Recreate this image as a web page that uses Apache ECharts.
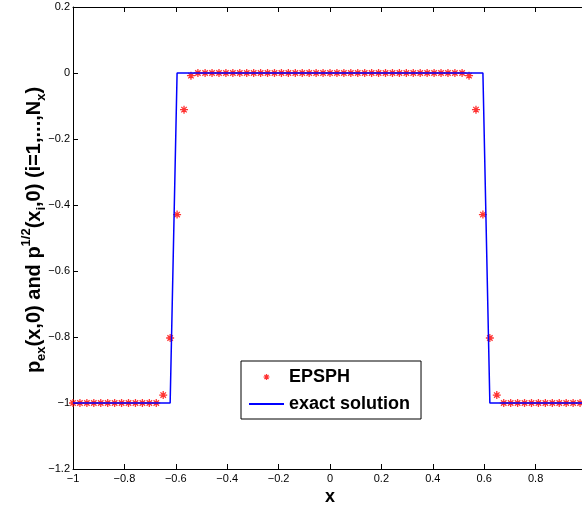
<!DOCTYPE html>
<html>
<head>
<meta charset="utf-8">
<script src="https://cdn.jsdelivr.net/npm/echarts@6/dist/echarts.min.js"></script>
<style>
  html, body { margin: 0; padding: 0; background: #ffffff; }
  #chart { width: 582px; height: 511px; }
</style>
</head>
<body>
<div id="chart"></div>
<script>
// Axis ticks
const xTicks = [-1, -0.8, -0.6, -0.4, -0.2, 0, 0.2, 0.4, 0.6, 0.8, 1];
const yTicks = [-1.2, -1, -0.8, -0.6, -0.4, -0.2, 0, 0.2];

// Particle positions x_i (i = 1, ..., Nx)
const epsphX = [
  -1, -0.973, -0.946, -0.919, -0.892, -0.865, -0.838, -0.811, -0.784, -0.757,
  -0.730, -0.703, -0.676, -0.649, -0.622, -0.595, -0.568, -0.541, -0.514, -0.486,
  -0.459, -0.432, -0.405, -0.378, -0.351, -0.324, -0.297, -0.270, -0.243, -0.216,
  -0.189, -0.162, -0.135, -0.108, -0.081, -0.054, -0.027, 0,
  0.027, 0.054, 0.081, 0.108, 0.135, 0.162, 0.189, 0.216, 0.243, 0.270,
  0.297, 0.324, 0.351, 0.378, 0.405, 0.432, 0.459, 0.486, 0.514, 0.541,
  0.568, 0.595, 0.622, 0.649, 0.676, 0.703, 0.730, 0.757, 0.784, 0.811,
  0.838, 0.865, 0.892, 0.919, 0.946, 0.973, 1
];
// EPSPH pressure p^{1/2}(x_i, 0)
const epsphY = [
  -1, -1, -1, -1, -1, -1, -1, -1, -1, -1,
  -1, -1, -1, -0.976, -0.803, -0.429, -0.111, -0.008, 0, 0,
  0, 0, 0, 0, 0, 0, 0, 0, 0, 0,
  0, 0, 0, 0, 0, 0, 0, 0,
  0, 0, 0, 0, 0, 0, 0, 0, 0, 0,
  0, 0, 0, 0, 0, 0, 0, 0, 0, -0.008,
  -0.111, -0.429, -0.803, -0.976, -1, -1, -1, -1, -1, -1,
  -1, -1, -1, -1, -1, -1, -1
];
// Exact solution p_ex(x, 0)
const exactX = [-1, -0.622, -0.595, 0.595, 0.622, 1];
const exactY = [-1, -1, 0, 0, -1, -1];

const seriesNames = ['EPSPH', 'exact solution'];

const FONT = "'Liberation Sans', Arial, Helvetica, sans-serif";
const starPath = 'path://M5,0L5,10M0,5L10,5M1.6,1.6L8.4,8.4M1.6,8.4L8.4,1.6';

const fmt = v => {
  const r = Math.round(v * 10) / 10;
  return r < 0 ? '\u2212' + Math.abs(r) : String(r);
};

const xMin = xTicks[0], xMax = xTicks[xTicks.length - 1];
const xStep = Math.round((xTicks[1] - xTicks[0]) * 10) / 10;
const yMin = yTicks[0], yMax = yTicks[yTicks.length - 1];
const yStep = Math.round((yTicks[1] - yTicks[0]) * 10) / 10;

const axisCommon = {
  axisLine: { show: true, onZero: false, lineStyle: { color: '#000', width: 1 } },
  axisTick: { show: true, inside: true, length: 5, lineStyle: { color: '#000', width: 1 } },
  splitLine: { show: false }
};

const chart = echarts.init(document.getElementById('chart'), null, { renderer: 'canvas' });

chart.setOption({
  backgroundColor: '#ffffff',
  animation: false,
  grid: { left: 73, right: -5, top: 7, bottom: 42, containLabel: false, outerBoundsMode: 'none' },
  xAxis: [
    Object.assign({}, axisCommon, {
      type: 'value', position: 'bottom', min: xMin, max: xMax, interval: xStep,
      axisLabel: { show: true, margin: 4, color: '#000', fontSize: 11, fontFamily: FONT, formatter: fmt },
      name: 'x', nameLocation: 'middle', nameGap: 19, nameMoveOverlap: false,
      nameTextStyle: { fontSize: 18, fontWeight: 'bold', color: '#000', fontFamily: FONT }
    }),
    Object.assign({}, axisCommon, {
      type: 'value', position: 'top', min: xMin, max: xMax, interval: xStep,
      axisLabel: { show: false }
    })
  ],
  yAxis: [
    Object.assign({}, axisCommon, {
      type: 'value', position: 'left', min: yMin, max: yMax, interval: yStep,
      axisLabel: { show: true, margin: 3, color: '#000', fontSize: 11, fontFamily: FONT, formatter: fmt },
      name: '{b|p}{s|ex}{b|(x,0) and p}{u|1/2}{b|(x}{s|i}{b|,0) (i=1,...,N}{s|x}{b|)}',
      nameLocation: 'middle', nameRotate: 90, nameGap: 25, nameMoveOverlap: false,
      nameTextStyle: {
        fontFamily: FONT, color: '#000',
        padding: [0, 0, 0, 16],
        rich: {
          b: { fontSize: 20, fontWeight: 'bold', color: '#000', fontFamily: FONT, lineHeight: 28, verticalAlign: 'middle' },
          s: { fontSize: 13, fontWeight: 'bold', color: '#000', fontFamily: FONT, verticalAlign: 'bottom' },
          u: { fontSize: 13, fontWeight: 'bold', color: '#000', fontFamily: FONT, verticalAlign: 'top' }
        }
      }
    }),
    Object.assign({}, axisCommon, {
      type: 'value', position: 'right', min: yMin, max: yMax, interval: yStep,
      axisLabel: { show: false }
    })
  ],
  legend: {
    orient: 'vertical', left: 241, top: 361,
    padding: [7, 11, 6, 7], itemGap: 9, itemWidth: 35, itemHeight: 6,
    borderColor: '#000', borderWidth: 1, backgroundColor: '#ffffff',
    textStyle: { fontSize: 18, fontWeight: 'bold', color: '#000', fontFamily: FONT },
    data: [
      { name: seriesNames[0], itemStyle: { borderWidth: 1.2 } },
      { name: seriesNames[1], itemStyle: { opacity: 0 } }
    ]
  },
  series: [
    {
      name: seriesNames[0], type: 'scatter', xAxisIndex: 0, yAxisIndex: 0,
      symbol: starPath, symbolSize: 8, symbolKeepAspect: true,
      itemStyle: { color: '#ff0000', borderColor: '#ff0000', borderWidth: 1.3 },
      data: epsphX.map((x, i) => [x, epsphY[i]]),
      z: 2
    },
    {
      name: seriesNames[1], type: 'line', xAxisIndex: 0, yAxisIndex: 0,
      symbol: 'none', showSymbol: false,
      lineStyle: { color: '#0000ff', width: 1.5 },
      itemStyle: { color: '#0000ff' },
      data: exactX.map((x, i) => [x, exactY[i]]),
      z: 3
    }
  ]
});
</script>
</body>
</html>
